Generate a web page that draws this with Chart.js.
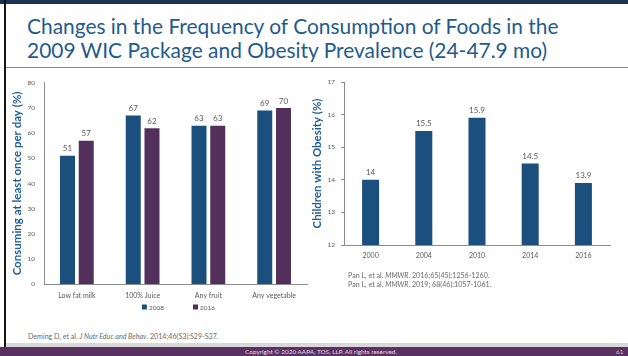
<!DOCTYPE html>
<html><head><meta charset="utf-8">
<script src="https://cdn.jsdelivr.net/npm/chart.js@4.4.1/dist/chart.umd.min.js"></script>
<style>
html,body{margin:0;padding:0;width:628px;height:356px;overflow:hidden;background:#fff;font-family:Lato,"Liberation Sans",sans-serif;}
.abs{position:absolute;}
.cite{color:#6b6b6b;font-size:7.1px;white-space:nowrap;}
</style></head><body>
<div class="abs" style="left:0;top:0;width:628px;height:4px;background:#1d3152"></div>
<div class="abs" style="left:4px;top:0;width:2px;height:347px;background:#151515"></div>
<div id="title" class="abs" style="left:27px;top:14px;color:#1f5b8c;line-height:24px;white-space:nowrap;font-size:21px">Changes in the Frequency of Consumption of Foods in the<br>2009 WIC Package and Obesity Prevalence (24-47.9 mo)</div>
<div class="abs" style="left:6px;top:67px;width:622px;height:1px;background:#8a8a8a"></div>
<div class="abs" style="left:0;top:70px;width:312px;height:250px"><canvas id="c1" width="312" height="250"></canvas></div>
<div class="abs" style="left:305px;top:70px;width:320px;height:220px"><canvas id="c2" width="320" height="220"></canvas></div>
<div class="abs cite" style="left:348px;top:271px;line-height:9px">Pan L, et al. <i>MMWR</i>. 2016;65(45):1256-1260.<br>Pan L, et al. <i>MMWR</i>. 2019; 68(46):1057-1061.</div>
<div class="abs cite" style="left:28px;top:332px;line-height:9px;font-size:7.1px">Deming D, et al. <i>J Nutr Educ and Behav</i>. 2014;46(S3):S29-S37.</div>
<div class="abs" style="left:6px;top:343px;width:622px;height:4px;background:#d9d9d9"></div>
<div class="abs" style="left:0;top:347px;width:628px;height:9px;background:#5a3262"></div>
<div class="abs" style="left:0;top:347px;width:642px;height:9px;line-height:9px;text-align:center;color:#e4dbe6;font-size:6.4px">Copyright © 2020 AAPA, TOS, LLP. All rights reserved.</div>
<div class="abs" style="left:616px;top:347px;height:9px;line-height:9px;color:#cfc4d2;font-size:6.4px">61</div>
<script>
// ---- data ----
const foodCategories = ["Low fat milk", "100% Juice", "Any fruit", "Any vegetable"];
const seriesNames = ["2008", "2016"];
const values2008 = [51, 67, 63, 69];
const values2016 = [57, 62, 63, 70];
const surveyYears = ["2000", "2004", "2010", "2014", "2016"];
const obesityPct = [14, 15.5, 15.9, 14.5, 13.9];

const FONT = 'Lato, "Liberation Sans", sans-serif';
const BLUE = '#1b4f7e';
const PURPLE = '#532f5b';
const TICK = '#595959';
const AXIS = '#8c8c8c';
const TITLE_BLUE = '#1f5f99';

function fitSize(text, weight, target, base) {
  const c = document.createElement('canvas').getContext('2d');
  c.font = weight + ' ' + base + 'px ' + FONT;
  return base * target / c.measureText(text).width;
}
const titleEl = document.getElementById('title');
titleEl.style.fontSize = fitSize('Changes in the Frequency of Consumption of Foods in the', '', 533, 21).toFixed(2) + 'px';

const valueLabels = {
  id: 'valueLabels',
  afterDatasetsDraw(chart, args, opts) {
    const ctx = chart.ctx;
    ctx.save();
    ctx.font = opts.size + 'px ' + FONT;
    ctx.fillStyle = TICK;
    ctx.textAlign = 'center';
    ctx.textBaseline = 'bottom';
    chart.data.datasets.forEach((ds, di) => {
      chart.getDatasetMeta(di).data.forEach((el, i) => {
        ctx.fillText(String(ds.data[i]), el.x, el.y - opts.offset);
      });
    });
    ctx.restore();
  }
};

const customLegend = {
  id: 'customLegend',
  afterDraw(chart, args, opts) {
    if (!opts.show) return;
    const ctx = chart.ctx;
    ctx.save();
    ctx.font = opts.size + 'px ' + FONT;
    ctx.textBaseline = 'middle';
    const items = chart.data.datasets.map(d => ({text: d.label, color: d.backgroundColor, w: ctx.measureText(d.label).width}));
    const box = 5, gapText = 2, gapItem = opts.gap;
    let total = 0;
    items.forEach((it, i) => { total += box + gapText + it.w + (i < items.length - 1 ? gapItem : 0); });
    const ca = chart.chartArea;
    let x = (ca.left + ca.right) / 2 + opts.shift - total / 2;
    const y = opts.y;
    items.forEach(it => {
      ctx.fillStyle = it.color;
      ctx.fillRect(x, y - box / 2, box, box);
      ctx.fillStyle = TICK;
      ctx.fillText(it.text, x + box + gapText, y + 0.5);
      x += box + gapText + it.w + gapItem;
    });
    ctx.restore();
  }
};

const t1 = 'Consuming at least once per day (%)';
const t2 = 'Children with Obesity (%)';
const t1Size = fitSize(t1, 'bold', 184, 12);
const t2Size = fitSize(t2, 'bold', 130, 12);

new Chart(document.getElementById('c1'), {
  type: 'bar',
  data: {
    labels: foodCategories,
    datasets: [
      {label: seriesNames[0], data: values2008, backgroundColor: BLUE},
      {label: seriesNames[1], data: values2016, backgroundColor: PURPLE}
    ]
  },
  options: {
    responsive: false, animation: false,
    layout: {padding: {left: 0, top: 12, right: 5, bottom: 20}},
    datasets: {bar: {categoryPercentage: 0.57, barPercentage: 0.8}},
    plugins: {
      legend: {display: false}, tooltip: {enabled: false},
      valueLabels: {size: 8, offset: 3},
      customLegend: {show: true, size: 6.5, gap: 29, y: 237, shift: 3}
    },
    scales: {
      x: {
        grid: {display: false, drawTicks: false},
        border: {color: AXIS, width: 1},
        ticks: {font: {size: 7, family: FONT}, color: TICK, padding: 8, maxRotation: 0},
        afterFit: s => { s.height = 16; }
      },
      y: {
        min: 0, max: 80,
        grid: {display: false, drawTicks: false},
        border: {color: AXIS, width: 1},
        ticks: {stepSize: 10, font: {size: 6.5, family: FONT}, color: TICK, padding: 9},
        title: {display: true, text: t1, color: TITLE_BLUE, font: {size: t1Size, weight: 'bold', family: FONT}, padding: {top: 10, bottom: 0}},
        afterFit: s => { s.width = 44; }
      }
    }
  },
  plugins: [valueLabels, customLegend]
});

new Chart(document.getElementById('c2'), {
  type: 'bar',
  data: {
    labels: surveyYears,
    datasets: [{label: 'Obesity', data: obesityPct, backgroundColor: BLUE}]
  },
  options: {
    responsive: false, animation: false,
    layout: {padding: {left: 0, top: 12, right: 15, bottom: 25}},
    datasets: {bar: {categoryPercentage: 0.32, barPercentage: 1}},
    plugins: {
      legend: {display: false}, tooltip: {enabled: false},
      valueLabels: {size: 8, offset: 3.5},
      customLegend: {show: false}
    },
    scales: {
      x: {
        grid: {display: false, drawTicks: false},
        border: {color: AXIS, width: 1},
        ticks: {font: {size: 7, family: FONT}, color: TICK, padding: 7, maxRotation: 0},
        afterFit: s => { s.height = 20; }
      },
      y: {
        min: 12, max: 17,
        grid: {drawOnChartArea: false, drawTicks: true, tickLength: 3, color: AXIS},
        border: {color: AXIS, width: 1},
        ticks: {stepSize: 1, font: {size: 6.5, family: FONT}, color: TICK, padding: 6},
        title: {display: true, text: t2, color: TITLE_BLUE, font: {size: t2Size, weight: 'bold', family: FONT}, padding: {top: 5, bottom: 0}},
        afterFit: s => { s.width = 39; }
      }
    }
  },
  plugins: [valueLabels, customLegend]
});
</script>
</body></html>
